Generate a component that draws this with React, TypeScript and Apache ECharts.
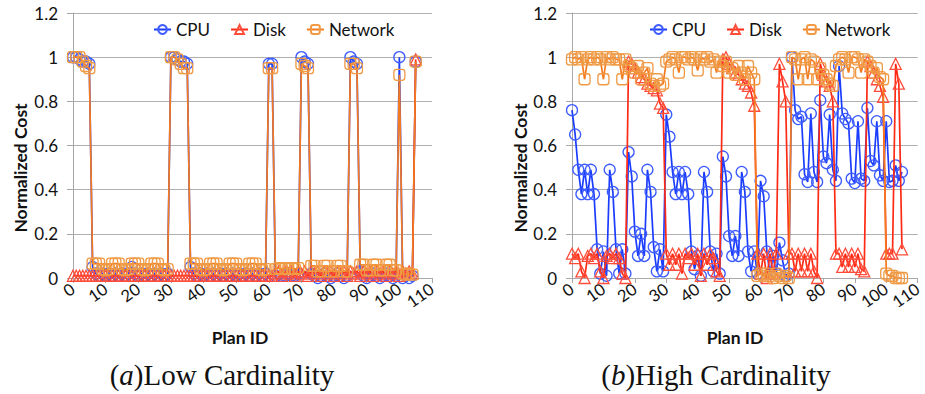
import React, { useEffect, useRef } from "react";
import * as echarts from "echarts";

// Plan IDs run 0..105 (index of each value)
const seriesNames = ["CPU", "Disk", "Network"];
const captionTexts = ["Low Cardinality", "High Cardinality"];
const captionTags = ["a", "b"];

// (a) Low Cardinality
const lowCpu = [
  1.0, 1.0, 0.99, 0.98, 0.98, 0.97, 0.05, 0.02, 0.01, 0.02,
  0.01, 0.02, 0.01, 0.02, 0.01, 0.02, 0.01, 0.02, 0.05, 0.02,
  0.01, 0.02, 0.01, 0.02, 0.01, 0.02, 0.01, 0.02, 0.01, 0.02,
  1.0, 1.0, 0.99, 0.98, 0.98, 0.97, 0.05, 0.02, 0.01, 0.02,
  0.01, 0.02, 0.01, 0.02, 0.01, 0.02, 0.01, 0.02, 0.01, 0.02,
  0.01, 0.02, 0.01, 0.02, 0.01, 0.02, 0.01, 0.02, 0.01, 0.02,
  0.97, 0.97, 0.01, 0.02, 0.01, 0.01, 0.02, 0.01, 0.01, 0.02,
  1.0, 0.98, 0.97, 0.02, 0.01, 0.0, 0.01, 0.02, 0.01, 0.0,
  0.01, 0.02, 0.01, 0.0, 0.01, 1.0, 0.98, 0.97, 0.03, 0.01,
  0.0, 0.01, 0.02, 0.01, 0.0, 0.01, 0.02, 0.01, 0.0, 0.01,
  1.0, 0.0, 0.01, 0.0, 0.01, 0.98,
];
const lowDisk = [
  0.01, 0.01, 0.01, 0.01, 0.01, 0.01, 0.01, 0.01, 0.01, 0.01,
  0.01, 0.01, 0.01, 0.01, 0.01, 0.01, 0.01, 0.01, 0.01, 0.01,
  0.01, 0.01, 0.01, 0.01, 0.01, 0.01, 0.01, 0.01, 0.01, 0.01,
  0.01, 0.01, 0.01, 0.01, 0.01, 0.01, 0.01, 0.01, 0.01, 0.01,
  0.01, 0.01, 0.01, 0.01, 0.01, 0.01, 0.01, 0.01, 0.01, 0.01,
  0.01, 0.01, 0.01, 0.01, 0.01, 0.01, 0.01, 0.01, 0.01, 0.01,
  0.01, 0.01, 0.02, 0.03, 0.01, 0.03, 0.02, 0.03, 0.01, 0.03,
  0.02, 0.03, 0.01, 0.03, 0.02, 0.03, 0.01, 0.03, 0.02, 0.03,
  0.01, 0.03, 0.02, 0.03, 0.01, 0.03, 0.02, 0.03, 0.01, 0.03,
  0.02, 0.03, 0.01, 0.03, 0.02, 0.03, 0.01, 0.03, 0.02, 0.03,
  0.01, 0.03, 0.02, 0.03, 0.02, 0.99,
];
const lowNetwork = [
  1.0, 1.0, 1.0, 0.98, 0.96, 0.95, 0.065, 0.065, 0.065, 0.04,
  0.035, 0.04, 0.065, 0.065, 0.065, 0.04, 0.035, 0.04, 0.065, 0.065,
  0.065, 0.04, 0.035, 0.04, 0.065, 0.065, 0.065, 0.04, 0.035, 0.04,
  1.0, 1.0, 0.99, 0.97, 0.95, 0.95, 0.065, 0.065, 0.065, 0.04,
  0.035, 0.04, 0.065, 0.065, 0.065, 0.04, 0.035, 0.04, 0.065, 0.065,
  0.065, 0.04, 0.035, 0.04, 0.065, 0.065, 0.065, 0.04, 0.035, 0.04,
  0.95, 0.95, 0.04, 0.045, 0.04, 0.045, 0.04, 0.045, 0.04, 0.045,
  0.97, 0.96, 0.95, 0.055, 0.055, 0.03, 0.03, 0.055, 0.055, 0.03,
  0.03, 0.055, 0.055, 0.03, 0.03, 0.97, 0.97, 0.95, 0.06, 0.06,
  0.035, 0.035, 0.06, 0.06, 0.035, 0.035, 0.06, 0.06, 0.035, 0.035,
  0.92, 0.02, 0.015, 0.02, 0.015, 0.98,
];

// (b) High Cardinality
const highCpu = [
  0.76, 0.65, 0.49, 0.38, 0.49, 0.38, 0.49, 0.38, 0.13, 0.02,
  0.12, 0.01, 0.49, 0.39, 0.13, 0.02, 0.13, 0.02, 0.57, 0.46,
  0.21, 0.1, 0.2, 0.1, 0.49, 0.39, 0.14, 0.03, 0.13, 0.03,
  0.74, 0.64, 0.48, 0.38, 0.48, 0.38, 0.48, 0.38, 0.12, 0.04,
  0.1, 0.01, 0.48, 0.39, 0.12, 0.03, 0.11, 0.02, 0.55, 0.46,
  0.19, 0.1, 0.19, 0.1, 0.48, 0.39, 0.12, 0.03, 0.12, 0.02,
  0.44, 0.37, 0.12, 0.02, 0.1, 0.02, 0.16, 0.08, 0.01, 0.02,
  1.0, 0.76, 0.72, 0.73, 0.47, 0.435, 0.745, 0.48, 0.435, 0.805,
  0.55, 0.52, 0.74, 0.49, 0.44, 0.96, 0.745, 0.72, 0.7, 0.45,
  0.43, 0.71, 0.45, 0.44, 0.77, 0.53, 0.51, 0.71, 0.465, 0.44,
  0.71, 0.435, 0.44, 0.51, 0.44, 0.48,
];
const highDisk = [
  0.11, 0.09, 0.11, 0.03, 0.0, 0.1, 0.11, 0.09, 0.11, 0.03,
  0.0, 0.1, 0.11, 0.09, 0.11, 0.09, 0.02, 0.0, 0.98, 0.97,
  0.95, 0.93, 0.91, 0.9, 0.88, 0.87, 0.86, 0.85, 0.79, 0.77,
  0.11, 0.06, 0.11, 0.06, 0.11, 0.02, 0.11, 0.09, 0.11, 0.06,
  0.11, 0.01, 0.11, 0.06, 0.11, 0.09, 0.03, 0.01, 0.99, 1.0,
  0.97, 0.95, 0.93, 0.92, 0.9, 0.88, 0.87, 0.84, 0.78, 0.11,
  0.02, 0.11, 0.0, 0.11, 0.02, 0.11, 0.97, 0.89, 0.8, 0.11,
  0.11, 0.03, 0.11, 0.03, 0.11, 0.03, 0.11, 0.03, 0.0, 0.97,
  0.92, 0.89, 0.87, 0.8, 0.11, 0.11, 0.05, 0.11, 0.05, 0.11,
  0.05, 0.11, 0.04, 0.03, 0.98, 0.96, 0.93, 0.9, 0.87, 0.82,
  0.11, 0.11, 0.11, 0.97, 0.88, 0.13,
];
const highNetwork = [
  0.99, 1.0, 0.99, 1.0, 0.9, 0.99, 1.0, 0.99, 1.0, 0.99,
  0.9, 1.0, 0.99, 1.0, 0.99, 0.99, 0.9, 0.99, 0.96, 0.95,
  0.93, 0.96, 0.9, 0.93, 0.95, 0.88, 0.87, 0.9, 0.87, 0.88,
  0.98, 0.99, 1.0, 0.99, 0.93, 1.0, 1.0, 0.99, 1.0, 0.99,
  0.94, 1.0, 0.99, 1.0, 0.98, 0.99, 0.93, 0.98, 0.96, 0.98,
  0.93, 0.95, 0.92, 0.96, 0.93, 0.9, 0.96, 0.93, 0.9, 0.01,
  0.02, 0.01, 0.02, 0.01, 0.0, 0.02, 0.01, 0.0, 0.01, 0.0,
  1.0, 0.99, 0.9, 0.99, 1.0, 0.9, 0.99, 0.98, 0.9, 0.95,
  0.92, 0.9, 0.88, 0.87, 0.96, 0.99, 1.0, 0.99, 0.93, 1.0,
  1.0, 0.99, 0.93, 0.99, 0.98, 0.96, 0.93, 0.95, 0.91, 0.9,
  0.02, 0.01, 0.01, 0.0, 0.0, 0.0,
];

const FONT = "Lato";
const lineColors = ["#1a3cff", "#ff2a14", "#f47a1f"];
const markColors = ["#3d5cff", "#ff4d3a", "#f09a45"];
const symbols = ["circle", "triangle", "roundRect"];
const symbolSizes = [11, 11, 11];

function buildSeries(gridIdx: number, datasets: number[][]) {
  return datasets.map((vals, k) => ({
    type: "line",
    name: seriesNames[k],
    xAxisIndex: gridIdx,
    yAxisIndex: gridIdx,
    data: vals.map((v, i) => [i, v]),
    symbol: symbols[k],
    symbolSize: symbolSizes[k],
    showAllSymbol: true,
    z: 2 + k,
    lineStyle: { color: lineColors[k], width: 1.7 },
    itemStyle: {
      color: "rgba(255,255,255,0)",
      borderColor: markColors[k],
      borderWidth: 1.3,
    },
    emphasis: { disabled: true },
  }));
}

function axisPair(gridIdx: number) {
  const x = {
    gridIndex: gridIdx,
    type: "value",
    min: 0,
    max: 110,
    interval: 10,
    axisLine: { show: true, lineStyle: { color: "#a8a8a8", width: 1 } },
    axisTick: { show: true, length: 5, lineStyle: { color: "#a8a8a8" } },
    splitLine: { show: false },
    axisLabel: {
      rotate: 35,
      fontSize: 16.5,
      fontFamily: FONT,
      color: "#111",
      margin: 9,
    },
  };
  const y = {
    gridIndex: gridIdx,
    type: "value",
    min: 0,
    max: 1.2,
    interval: 0.2,
    axisLine: { show: true, lineStyle: { color: "#a8a8a8", width: 1 } },
    axisTick: { show: true, length: 6, lineStyle: { color: "#a8a8a8" } },
    splitLine: { show: true, lineStyle: { color: "#b0b0b0", width: 1 } },
    axisLabel: {
      fontSize: 17,
      fontFamily: FONT,
      color: "#111",
      margin: 15,
      formatter: (v: number) => String(Math.round(v * 10) / 10),
    },
  };
  return { x, y };
}

function legendAt(left: number) {
  return {
    data: seriesNames,
    left,
    top: 16,
    orient: "horizontal",
    itemWidth: 17,
    itemHeight: 11,
    itemGap: 20,
    selectedMode: false,
    textStyle: { fontSize: 17, fontFamily: FONT, color: "#111" },
  };
}

function caption(cx: number, tag: string, text: string) {
  return {
    type: "text",
    x: cx,
    y: 375,
    style: {
      text: "(" + "{i|" + tag + "})" + text,
      font: "29px 'Liberation Serif'",
      fill: "#111",
      textAlign: "center",
      align: "center",
      textVerticalAlign: "middle",
      verticalAlign: "middle",
      rich: {
        i: { fontStyle: "italic", fontSize: 29, fontFamily: "Liberation Serif", fill: "#111", color: "#111" },
      },
    },
  };
}

function boldText(x: number, y: number, text: string, rot: number) {
  return {
    type: "text",
    x,
    y,
    rotation: rot,
    style: {
      text,
      font: `bold 17.5px ${FONT}`,
      fill: "#111",
      textAlign: "center",
      align: "center",
      textVerticalAlign: "middle",
      verticalAlign: "middle",
    },
  };
}

export default function App() {
  const ref = useRef<HTMLDivElement>(null);
  useEffect(() => {
    if (!ref.current) return;
    const chart = echarts.init(ref.current, undefined, { renderer: "svg" });
    const a0 = axisPair(0);
    const a1 = axisPair(1);
    chart.setOption({
      animation: false,
      backgroundColor: "#ffffff",
      grid: [
        { left: 73, top: 13, width: 359, height: 265 },
        { left: 572, top: 13, width: 349, height: 265 },
      ],
      xAxis: [a0.x, a1.x],
      yAxis: [a0.y, a1.y],
      legend: [legendAt(148), legendAt(644)],
      series: [
        ...buildSeries(0, [lowCpu, lowDisk, lowNetwork]),
        ...buildSeries(1, [highCpu, highDisk, highNetwork]),
      ],
      graphic: [
        boldText(20, 168, "Normalized Cost", Math.PI / 2),
        boldText(520, 168, "Normalized Cost", Math.PI / 2),
        boldText(240, 337, "Plan ID", 0),
        boldText(735, 337, "Plan ID", 0),
        caption(222, captionTags[0], captionTexts[0]),
        caption(716, captionTags[1], captionTexts[1]),
      ],
    });
    return () => chart.dispose();
  }, []);
  return (
    <div
      ref={ref}
      style={{ position: "fixed", left: 0, top: 0, width: 925, height: 394, background: "#fff" }}
    />
  );
}
